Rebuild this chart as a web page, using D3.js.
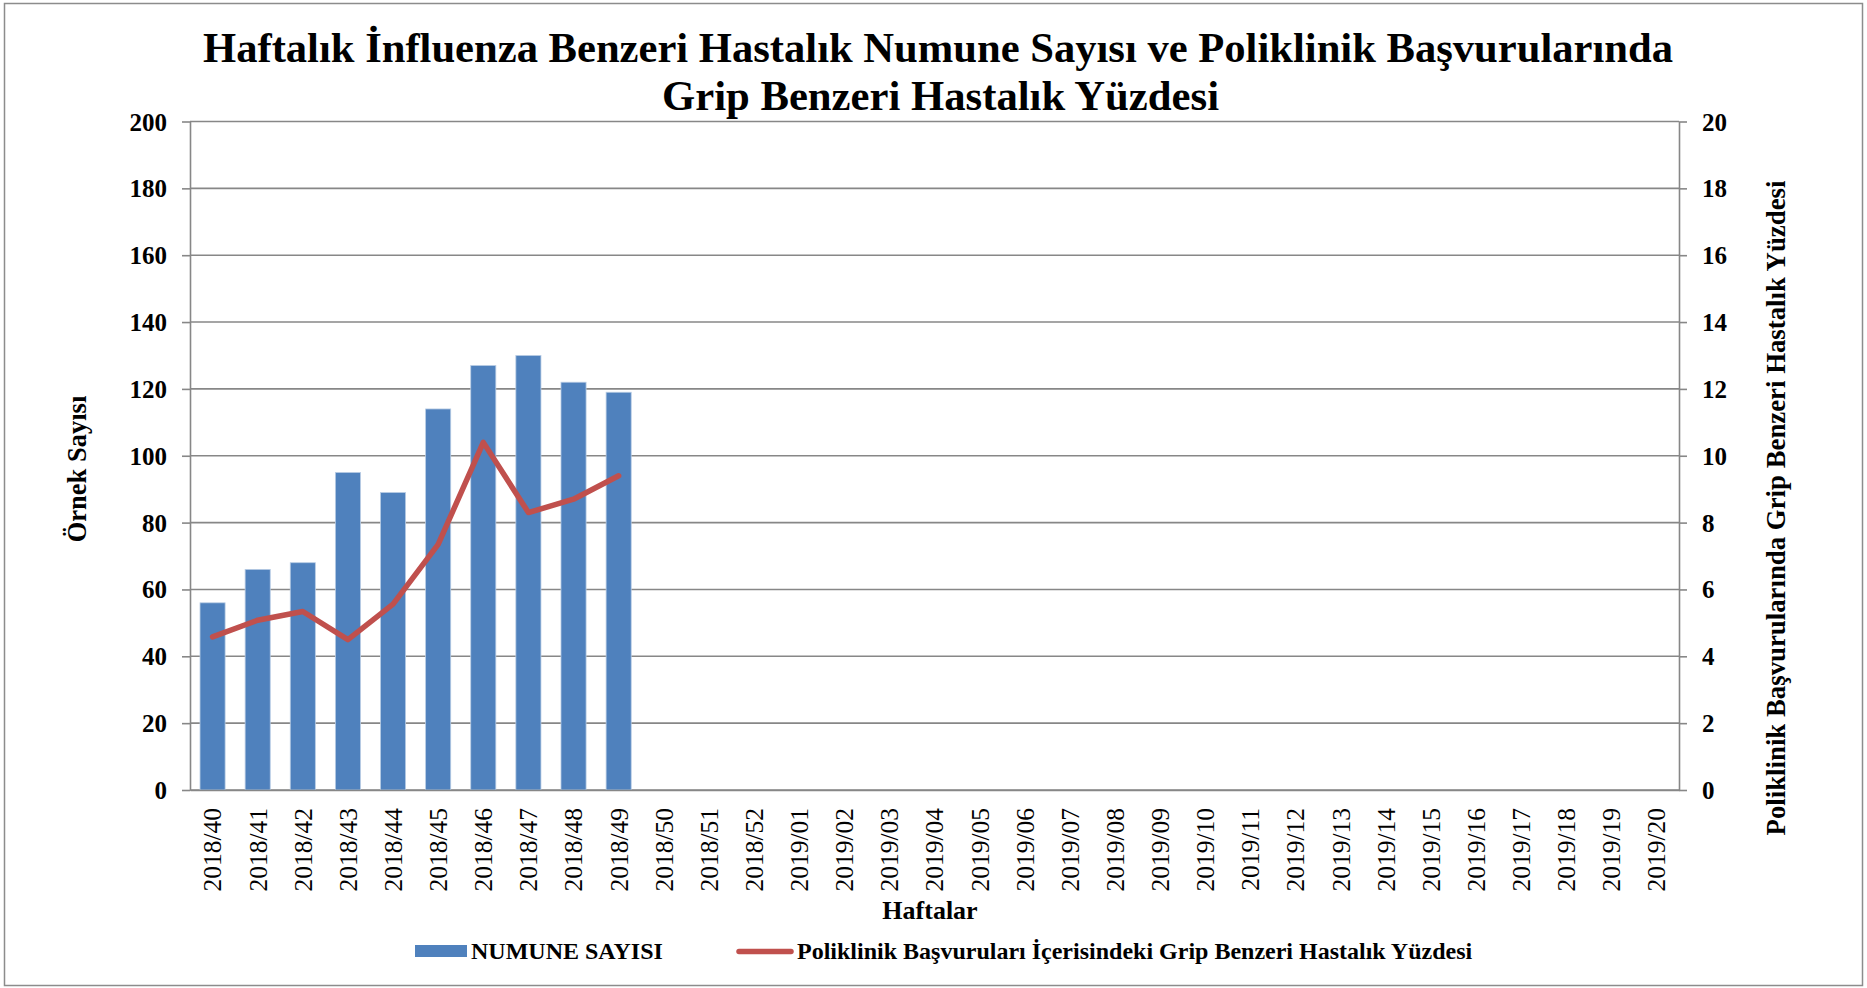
<!DOCTYPE html>
<html><head><meta charset="utf-8">
<script src="https://cdn.jsdelivr.net/npm/d3@7"></script>
<style>body{margin:0;background:#fff}svg{display:block}</style>
</head><body><svg id="c" width="1867" height="988"></svg>
<script>
const weeks = ["2018/40","2018/41","2018/42","2018/43","2018/44","2018/45","2018/46","2018/47","2018/48","2018/49","2018/50","2018/51","2018/52",
  "2019/01","2019/02","2019/03","2019/04","2019/05","2019/06","2019/07","2019/08","2019/09","2019/10","2019/11","2019/12","2019/13","2019/14","2019/15","2019/16","2019/17","2019/18","2019/19","2019/20"];
const sampleCounts = [56,66,68,95,89,114,127,130,122,119];
const iliPercent = [4.58,5.08,5.34,4.5,5.56,7.35,10.4,8.3,8.7,9.4];
const leftTicks = [0,20,40,60,80,100,120,140,160,180,200];
const rightTicks = [0,2,4,6,8,10,12,14,16,18,20];
const titleLines = ["Haftalık İnfluenza Benzeri Hastalık Numune Sayısı ve Poliklinik Başvurularında","Grip Benzeri Hastalık Yüzdesi"];
const leftTitle = "Örnek Sayısı";
const rightTitle = "Poliklinik Başvurularında Grip Benzeri Hastalık Yüzdesi";
const xTitle = "Haftalar";
const legendLabels = ["NUMUNE SAYISI","Poliklinik Başvuruları İçerisindeki Grip Benzeri Hastalık Yüzdesi"];

const FONT = "'Times New Roman','Liberation Serif',serif";
const GRID = "#878787";
const BAR = "#4F81BD", LINE = "#C0504D";

const svg = d3.select("#c");
svg.append("rect").attr("x",4.5).attr("y",3.5).attr("width",1858).attr("height",982)
  .attr("fill","#fff").attr("stroke","#8c8c8c").attr("stroke-width",1.5);

const L = 190, R = 1679, T = 121.5, B = 790;
const x = d3.scaleBand().domain(weeks).range([L,R]).paddingInner(0.444).paddingOuter(0.222);
const yL = d3.scaleLinear().domain([0,200]).range([B,T]);
const yR = d3.scaleLinear().domain([0,20]).range([B,T]);

// gridlines
svg.append("g").selectAll("line").data(leftTicks).join("line")
  .attr("x1",L).attr("x2",R).attr("y1",d=>yL(d)).attr("y2",d=>yL(d))
  .attr("stroke",GRID).attr("stroke-width",1.6);

// bars
svg.append("g").selectAll("rect").data(sampleCounts).join("rect")
  .attr("x",(d,i)=>x(weeks[i])).attr("width",x.bandwidth())
  .attr("y",d=>yL(d)).attr("height",d=>yL(0)-yL(d))
  .attr("fill",BAR).attr("stroke","#b8cce4").attr("stroke-width",0.8);

// line
const line = d3.line().x((d,i)=>x(weeks[i])+x.bandwidth()/2).y(d=>yR(d));
svg.append("path").datum(iliPercent).attr("d",line).attr("fill","none")
  .attr("stroke",LINE).attr("stroke-width",5.5).attr("stroke-linejoin","round").attr("stroke-linecap","round");

// axes
function styleAxis(g){
  g.selectAll("path.domain").attr("stroke",GRID).attr("stroke-width",1.6);
  g.selectAll(".tick line").attr("stroke",GRID).attr("stroke-width",1.6);
  g.selectAll("text").attr("fill","#000").style("font-family",FONT);
}
const gl = svg.append("g").attr("transform",`translate(${L},0)`)
  .call(d3.axisLeft(yL).tickValues(leftTicks).tickSize(8).tickSizeOuter(0).tickPadding(15));
styleAxis(gl);
gl.selectAll("text").style("font-size","25px").style("font-weight","bold").attr("dy","0.34em");

const gr = svg.append("g").attr("transform",`translate(${R},0)`)
  .call(d3.axisRight(yR).tickValues(rightTicks).tickSize(8).tickSizeOuter(0).tickPadding(15));
styleAxis(gr);
gr.selectAll("text").style("font-size","25px").style("font-weight","bold").attr("dy","0.34em");

const gx = svg.append("g").attr("transform",`translate(0,${B})`)
  .call(d3.axisBottom(x).tickSize(0).tickSizeOuter(0));
styleAxis(gx);
gx.selectAll("text").style("font-size","25.5px")
  .attr("transform","rotate(-90)").attr("x",-18).attr("y",0).attr("dy","0.35em")
  .style("text-anchor","end");

// titles
function fitText(sel, w){
  const n = sel.node().getComputedTextLength();
  if (Math.abs(n-w) > 2) sel.attr("textLength",w).attr("lengthAdjust","spacingAndGlyphs");
}
const t1 = svg.append("text").attr("x",938).attr("y",62).attr("text-anchor","middle")
  .style("font-family",FONT).style("font-weight","bold").style("font-size","43px").text(titleLines[0]);
fitText(t1,1470);
const t2 = svg.append("text").attr("x",940.5).attr("y",110).attr("text-anchor","middle")
  .style("font-family",FONT).style("font-weight","bold").style("font-size","43px").text(titleLines[1]);
fitText(t2,557);

svg.append("text").attr("transform","translate(86,469) rotate(-90)").attr("text-anchor","middle")
  .style("font-family",FONT).style("font-weight","bold").style("font-size","26.5px").text(leftTitle);
svg.append("text").attr("transform","translate(1785,508) rotate(-90)").attr("text-anchor","middle")
  .style("font-family",FONT).style("font-weight","bold").style("font-size","26.8px").text(rightTitle);
svg.append("text").attr("x",930).attr("y",919).attr("text-anchor","middle")
  .style("font-family",FONT).style("font-weight","bold").style("font-size","26px").text(xTitle);

// legend
const lg = svg.append("g");
lg.append("rect").attr("x",415).attr("y",945).attr("width",52).attr("height",12).attr("fill",BAR);
lg.append("text").attr("x",471).attr("y",959).style("font-family",FONT).style("font-weight","bold")
  .style("font-size","24px").text(legendLabels[0]);
lg.append("line").attr("x1",739).attr("x2",791).attr("y1",951.5).attr("y2",951.5)
  .attr("stroke",LINE).attr("stroke-width",5.5).attr("stroke-linecap","round");
lg.append("text").attr("x",797).attr("y",959).style("font-family",FONT).style("font-weight","bold")
  .style("font-size","24px").text(legendLabels[1]);
</script></body></html>
